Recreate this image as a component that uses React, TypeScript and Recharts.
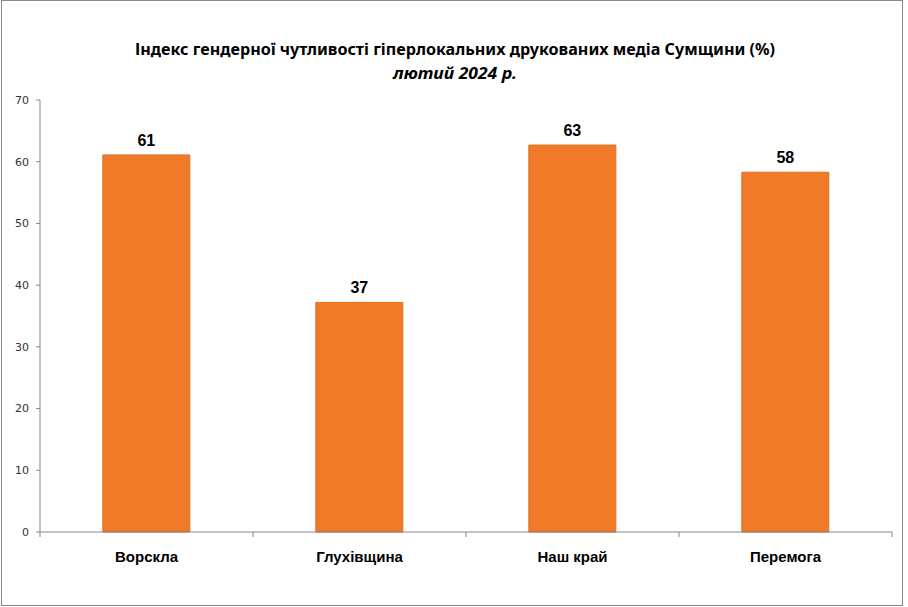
import { Bar, BarChart, LabelList, XAxis, YAxis } from "recharts";

const TITLE = "Індекс гендерної чутливості  гіперлокальних друкованих медіа Сумщини (%)";
const SUBTITLE = "лютий 2024 р.";

const CATEGORIES = ["Ворскла", "Глухівщина", "Наш край", "Перемога"];
const VALUES = [61.1, 37.2, 62.7, 58.3];
const Y_TICKS = [0, 10, 20, 30, 40, 50, 60, 70];

const BAR_COLOR = "#F07A28";
const AXIS_COLOR = "#868686";

const rows = CATEGORIES.map((name, i) => ({ name, value: VALUES[i] }));

// category label centred in the band, tick marks at the band edges (Excel style)
function CategoryTick(props: any) {
  const { x, y, payload, width, visibleTicksCount, index } = props;
  const band = width / visibleTicksCount;
  const axisY = y - 19;
  return (
    <g>
      <line x1={x - band / 2} x2={x - band / 2} y1={axisY} y2={axisY + 5} stroke={AXIS_COLOR} />
      {index === visibleTicksCount - 1 && (
        <line x1={x + band / 2} x2={x + band / 2} y1={axisY} y2={axisY + 5} stroke={AXIS_COLOR} />
      )}
      <text
        x={x}
        y={y}
        dy="0.71em"
        textAnchor="middle"
        fill="#000"
        fontSize={15}
        fontWeight="bold"
        fontFamily="'Liberation Sans', sans-serif"
      >
        {payload.value}
      </text>
    </g>
  );
}

export default function App() {
  return (
    <div
      style={{
        position: "absolute",
        left: 1,
        top: 0,
        width: 900,
        height: 604,
        border: `1px solid ${AXIS_COLOR}`,
        background: "#fff",
      }}
    >
      <svg width={900} height={90} style={{ position: "absolute", left: 0, top: 0, pointerEvents: "none" }}>
        <text
          x={453}
          y={54}
          textAnchor="middle"
          fontFamily="'Noto Sans', sans-serif"
          fontWeight="bold"
          fontSize={16}
          fill="#000"
          textLength={640}
          lengthAdjust="spacingAndGlyphs"
        >
          {TITLE}
        </text>
        <text
          x={453}
          y={78}
          textAnchor="middle"
          fontFamily="'Noto Sans', sans-serif"
          fontWeight="bold"
          fontStyle="italic"
          fontSize={16}
          fill="#000"
          textLength={124}
          lengthAdjust="spacingAndGlyphs"
        >
          {SUBTITLE}
        </text>
      </svg>
      <BarChart
        width={900}
        height={604}
        data={rows}
        margin={{ top: 99, right: 10, bottom: 0, left: 0 }}
        barCategoryGap="29.5%"
      >
        <XAxis
          dataKey="name"
          height={73}
          axisLine={{ stroke: AXIS_COLOR }}
          tickLine={false}
          tickSize={0}
          tickMargin={19}
          interval={0}
          tick={<CategoryTick />}
        />
        <YAxis
          domain={[0, 70]}
          ticks={Y_TICKS}
          width={38}
          tickSize={4}
          tickMargin={7}
          axisLine={{ stroke: AXIS_COLOR }}
          tickLine={{ stroke: AXIS_COLOR }}
          tick={{ fill: "#333", fontSize: 11, fontFamily: "'DejaVu Sans', sans-serif" }}
        />
        <Bar dataKey="value" fill={BAR_COLOR} stroke="#E36F1F" strokeWidth={1} isAnimationActive={false}>
          <LabelList
            dataKey="value"
            position="top"
            offset={9}
            formatter={(v: number) => Math.round(v)}
            style={{ fill: "#000", fontSize: 16, fontWeight: "bold", fontFamily: "'Liberation Sans', sans-serif" }}
          />
        </Bar>
      </BarChart>
    </div>
  );
}
